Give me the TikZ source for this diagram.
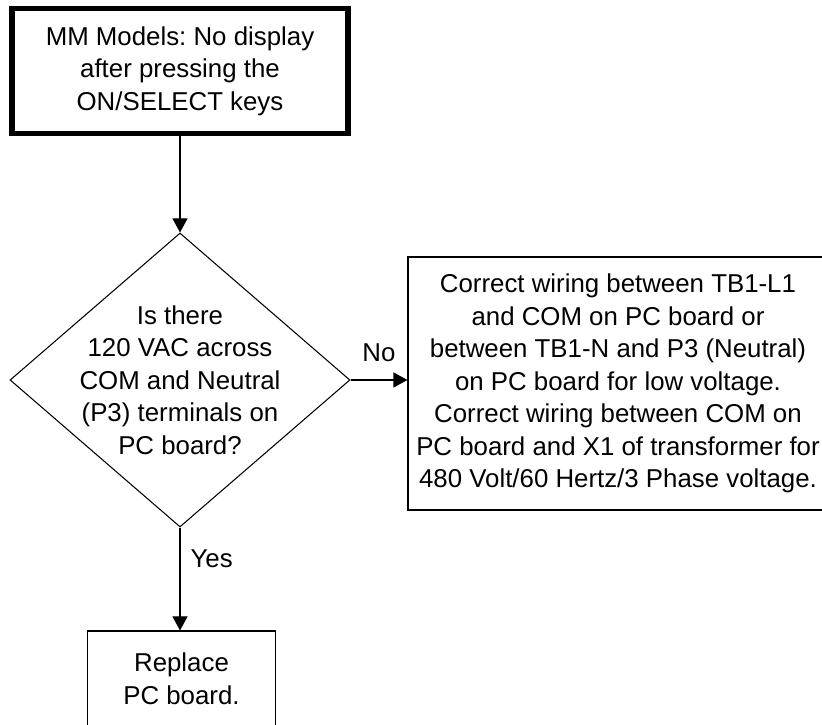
\documentclass[tikz,border=0pt]{standalone}
\usepackage{fontspec}
\setmainfont{Liberation Sans}
\usepackage{tikz}
\usetikzlibrary{arrows.meta, positioning, shapes.geometric}
\frenchspacing

\begin{document}
\begin{tikzpicture}[font=\fontsize{14.7}{18.5}\selectfont,
    >={Triangle[length=0.28cm, width=0.3cm]},
    blk/.style={draw, line width=0.6pt, align=center, inner sep=0pt},
    startblk/.style={blk, line width=3.4pt, minimum width=6.73cm, minimum height=2.5cm},
    dec/.style={draw, diamond, line width=0.6pt, align=center, inner sep=-0.8cm, minimum width=6.8cm, minimum height=5.88cm},
    lbl/.style={inner sep=0pt}]
    \useasboundingbox (0,0) rectangle (16.44,-14.5);
    \node[startblk] (start) at (3.6,-1.42) {MM Models: No display\\after pressing the\\ON/SELECT keys};
    \node[dec] (volt) at (3.6,-7.6) {Is there\\120 VAC across\\COM and Neutral\\(P3) terminals on\\PC board?};
    \node[blk, minimum width=8.4cm, minimum height=5.06cm] (wiring) at (12.36,-7.67)
      {Correct wiring between TB1-L1\\and COM on PC board or\\between TB1-N and P3 (Neutral)\\on PC board for low voltage.\\Correct wiring between COM on\\PC board and X1 of transformer for\\480 Volt/60 Hertz/3 Phase voltage.};
    \node[blk, minimum width=3.76cm, minimum height=1.92cm] (board) at (3.63,-13.58) {Replace\\PC board.};
    \draw[->, line width=0.6pt] (start) -- (volt);
    \draw[->, line width=0.6pt] (volt.east) -- (volt.east -| wiring.west)
      node[lbl, midway, above=0.36cm, name=no] {No};
    \draw[->, line width=0.6pt] (volt.south) -- (volt.south |- board.north)
      node[lbl, pos=0.3, right=0.2cm, name=yes] {Yes};
  \end{tikzpicture}
\end{document}
